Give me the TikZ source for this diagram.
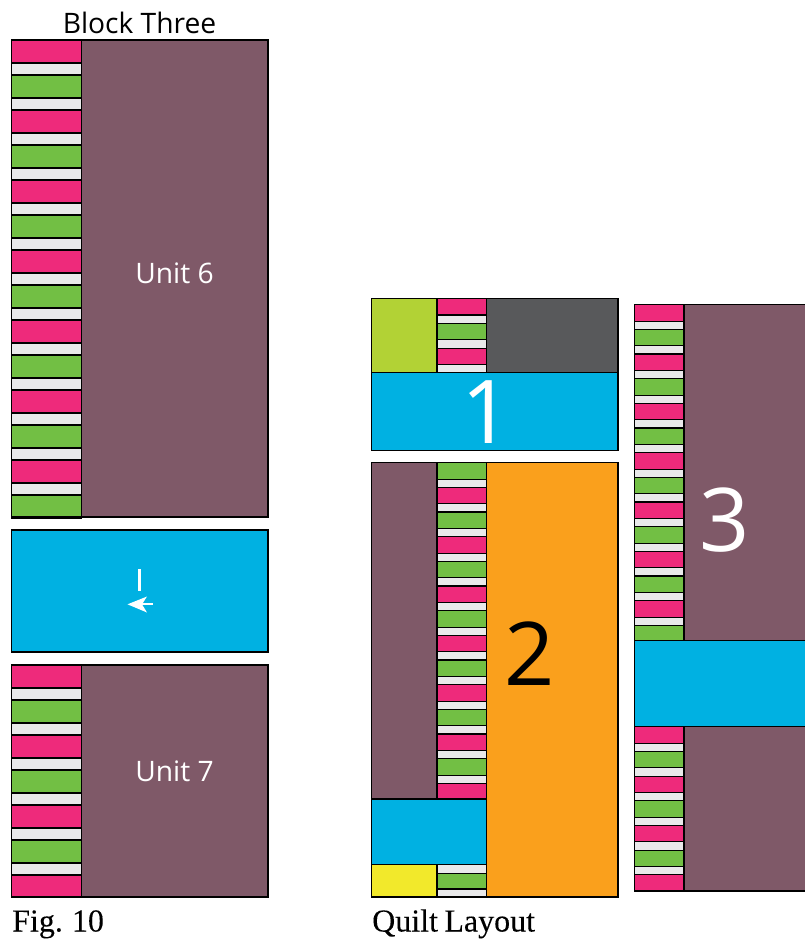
\documentclass[tikz,border=0pt]{standalone}
\usepackage{fontspec}
\setmainfont[WordSpace=0.8,FakeBold=0.12]{Liberation Serif}
\newfontfamily\labelsans{Open Sans}
\definecolor{qpink}{HTML}{EE2A7B}
\definecolor{qgreen}{HTML}{72BF44}
\definecolor{qwhite}{HTML}{E9E9EA}
\definecolor{qmaroon}{HTML}{7F5968}
\definecolor{qblue}{HTML}{00B1E2}
\definecolor{qlime}{HTML}{B2D235}
\definecolor{qgrey}{HTML}{58595B}
\definecolor{qorange}{HTML}{FAA01C}
\definecolor{qyellow}{HTML}{F2E92B}
\tikzset{
  patch/.style={draw=black,line width=1.1pt,line join=miter},
  caption/.style={anchor=base west,inner sep=0pt,font=\fontsize{32}{32}\selectfont},
  sanscap/.style={anchor=base,inner sep=0pt,font=\labelsans\fontsize{28.2}{28.2}\selectfont},
  bignum/.style={anchor=base,inner sep=0pt,font=\labelsans\fontsize{88}{88}\selectfont}
}
\newcommand{\qrect}[5]{\fill[#5] (#1,#2) rectangle (#3,#4); \draw[patch] (#1,#2) rectangle (#3,#4);}
\begin{document}
\begin{tikzpicture}[x=1pt,y=-1pt]
\useasboundingbox (0,0) rectangle (805,939);
% Block Three, Unit 6
\qrect{81.5}{40}{268}{517}{qmaroon}
\foreach \i in {0,...,6}{
  \pgfmathsetmacro{\ya}{40+70*\i}
  \pgfmathsetmacro{\yb}{\ya+23}\pgfmathsetmacro{\yc}{\ya+35}\pgfmathsetmacro{\yd}{\ya+58}\pgfmathsetmacro{\ye}{\ya+70}
  \qrect{11.5}{\ya}{81.5}{\yb}{qpink}
  \qrect{11.5}{\yb}{81.5}{\yc}{qwhite}
  \qrect{11.5}{\yc}{81.5}{\yd}{qgreen}
  \ifnum\i<6 \qrect{11.5}{\yd}{81.5}{\ye}{qwhite}\fi
}
\qrect{11.5}{495}{81.5}{517}{qgreen}
% Blue strip
\qrect{11.5}{530}{268}{652}{qblue}
\draw[white,line width=2.6pt] (139.3,569) -- (139.3,591);
\draw[white,line width=1.8pt] (140,604.3) -- (153,604.3);
\fill[white] (127.5,604.3) -- (147,596.5) -- (142,604.3) -- (147,612.5) -- cycle;
% Unit 7
\qrect{81.5}{665}{268}{897}{qmaroon}
\foreach \i in {0,...,3}{
  \pgfmathsetmacro{\ya}{665+70*\i}
  \pgfmathsetmacro{\yb}{\ya+23}\pgfmathsetmacro{\yc}{\ya+35}\pgfmathsetmacro{\yd}{\ya+58}\pgfmathsetmacro{\ye}{\ya+70}
  \ifnum\i<3
    \qrect{11.5}{\ya}{81.5}{\yb}{qpink}
    \qrect{11.5}{\yb}{81.5}{\yc}{qwhite}
    \qrect{11.5}{\yc}{81.5}{\yd}{qgreen}
    \qrect{11.5}{\yd}{81.5}{\ye}{qwhite}
  \else
    \qrect{11.5}{\ya}{81.5}{897}{qpink}
  \fi
}
% Quilt block 1
\qrect{371.5}{298.7}{437}{372.7}{qlime}
\qrect{486.5}{298.7}{618}{372.7}{qgrey}
\qrect{437}{298.7}{486.5}{315}{qpink}
\qrect{437}{315}{486.5}{323.5}{qwhite}
\qrect{437}{323.5}{486.5}{339.7}{qgreen}
\qrect{437}{339.7}{486.5}{348.2}{qwhite}
\qrect{437}{348.2}{486.5}{364.2}{qpink}
\qrect{437}{364.2}{486.5}{372.7}{qwhite}
\qrect{371.5}{372.7}{618}{450.5}{qblue}
% Quilt block 2
\qrect{371.5}{462.7}{437}{799}{qmaroon}
\qrect{486.5}{462.7}{618}{897}{qorange}
\foreach \i in {0,...,6}{
  \pgfmathsetmacro{\ya}{462.7+49.33*\i}
  \pgfmathsetmacro{\yb}{\ya+16.4}\pgfmathsetmacro{\yc}{\ya+24.67}\pgfmathsetmacro{\yd}{\ya+41.07}\pgfmathsetmacro{\ye}{\ya+49.33}
  \qrect{437}{\ya}{486.5}{\yb}{qgreen}
  \qrect{437}{\yb}{486.5}{\yc}{qwhite}
  \qrect{437}{\yc}{486.5}{\yd}{qpink}
  \ifnum\i<6 \qrect{437}{\yd}{486.5}{\ye}{qwhite}\fi
}
\qrect{371.5}{799}{486.5}{864.3}{qblue}
\qrect{371.5}{864.3}{437}{897}{qyellow}
\qrect{437}{864.3}{486.5}{873.3}{qwhite}
\qrect{437}{873.3}{486.5}{889}{qgreen}
\qrect{437}{889}{486.5}{897}{qwhite}
% Quilt block 3
\qrect{684}{304.7}{815}{891}{qmaroon}
\foreach \i in {0,...,6}{
  \pgfmathsetmacro{\ya}{304.7+49.33*\i}
  \pgfmathsetmacro{\yb}{\ya+16.4}\pgfmathsetmacro{\yc}{\ya+24.67}\pgfmathsetmacro{\yd}{\ya+41.07}\pgfmathsetmacro{\ye}{\ya+49.33}
  \qrect{634.5}{\ya}{684}{\yb}{qpink}
  \qrect{634.5}{\yb}{684}{\yc}{qwhite}
  \qrect{634.5}{\yc}{684}{\yd}{qgreen}
  \ifnum\i<6 \qrect{634.5}{\yd}{684}{\ye}{qwhite}\fi
}
\qrect{634.5}{640.7}{815}{726.7}{qblue}
\foreach \i in {0,...,3}{
  \pgfmathsetmacro{\ya}{726.7+49.4*\i}
  \pgfmathsetmacro{\yb}{\ya+16.4}\pgfmathsetmacro{\yc}{\ya+24.67}\pgfmathsetmacro{\yd}{\ya+41.07}\pgfmathsetmacro{\ye}{\ya+49.4}
  \ifnum\i<3
    \qrect{634.5}{\ya}{684}{\yb}{qpink}
    \qrect{634.5}{\yb}{684}{\yc}{qwhite}
    \qrect{634.5}{\yc}{684}{\yd}{qgreen}
    \qrect{634.5}{\yd}{684}{\ye}{qwhite}
  \else
    \qrect{634.5}{\ya}{684}{891}{qpink}
  \fi
}
% Texts
\node[sanscap] (title) at (139.5,34) {Block Three};
\node[sanscap,text=white] (unit6) at (174.5,283) {Unit 6};
\node[sanscap,text=white] (unit7) at (174.5,781) {Unit 7};
\node[caption] (fig) at (12,931.5) {Fig. 10};
\node[caption] (layout) at (372,931.5) {Quilt Layout};
\node[bignum,text=white] (one) at (487,443) {1};
\node[bignum,text=black] (two) at (529.5,685) {2};
\node[bignum,text=white] (three) at (725,551) {3};
\end{tikzpicture}
\end{document}
